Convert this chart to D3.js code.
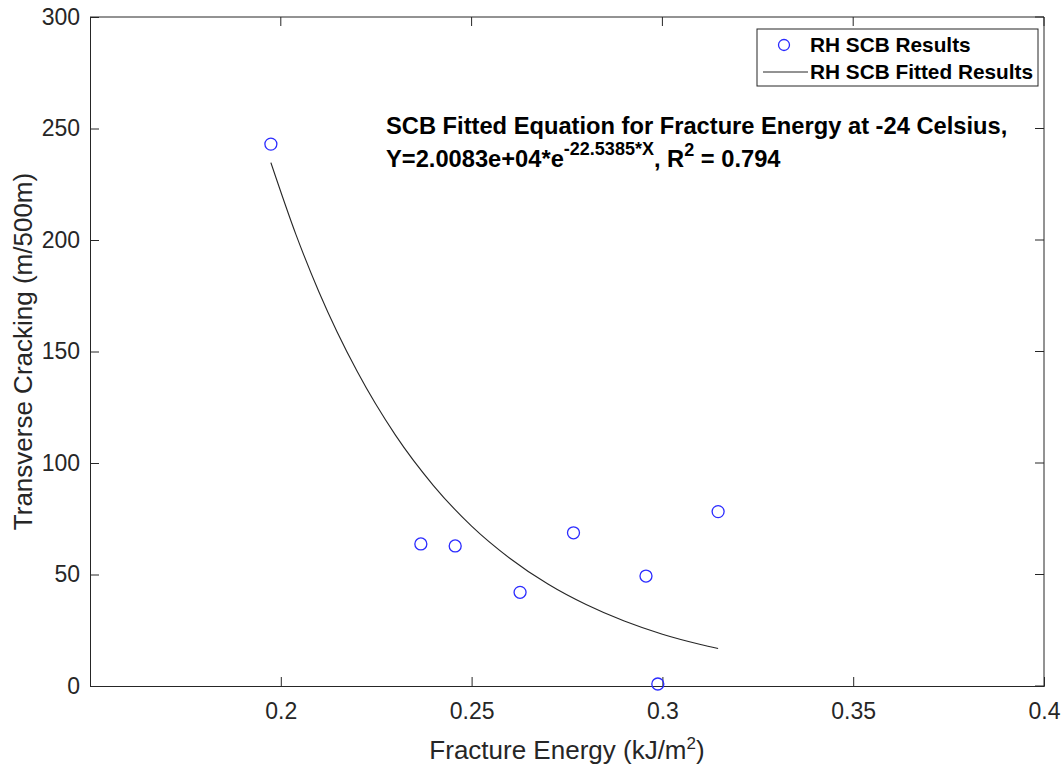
<!DOCTYPE html>
<html>
<head>
<meta charset="utf-8">
<title>Fracture energy vs transverse cracking</title>
<script src="https://cdnjs.cloudflare.com/ajax/libs/d3/7.8.5/d3.min.js"></script>
<style>
  body { margin: 0; background: #fff; }
  svg { font-family: "Liberation Sans", Arial, sans-serif; }
</style>
</head>
<body>
<svg id="chart" width="1063" height="768"></svg>
<script>
// measured SCB results
var energy = [0.1974, 0.2367, 0.2457, 0.2627, 0.2767, 0.2957, 0.2988, 0.3146];
var cracking = [243.0, 63.7, 62.8, 42.0, 68.7, 49.3, 0.9, 78.2];

var fitX = [0.1974, 0.204, 0.21, 0.22, 0.23, 0.24, 0.25, 0.26, 0.27, 0.28, 0.29, 0.30, 0.31, 0.3146];
var fitY = [234.7, 202.3, 176.7, 141.1, 112.6, 89.9, 71.7, 57.3, 45.7, 36.5, 29.1, 23.2, 18.6, 16.8];

var xTicks = [0.2, 0.25, 0.3, 0.35, 0.4];
var yTicks = [0, 50, 100, 150, 200, 250, 300];
var legendLabels = ["RH SCB Results", "RH SCB Fitted Results"];

var svg = d3.select("#chart");
var margin = {left: 90, top: 17, right: 1044, bottom: 686};

var x = d3.scaleLinear().domain([0.15, 0.4]).range([margin.left, margin.right]);
var y = d3.scaleLinear().domain([0, 300]).range([margin.bottom, margin.top]);

/* axes, matlab style: ticks point inward */
var xAxis = svg.append("g")
    .attr("transform", "translate(0," + margin.bottom + ")")
    .call(d3.axisBottom(x).tickValues(xTicks).tickSize(-9).tickPadding(17)
        .tickFormat(function (d) { return d3.format("")(d); }));

var yAxis = svg.append("g")
    .attr("transform", "translate(" + margin.left + ",0)")
    .call(d3.axisLeft(y).tickValues(yTicks).tickSize(-9).tickPadding(10));

svg.selectAll(".domain").attr("stroke", "#262626").attr("stroke-width", 1);
svg.selectAll(".tick line").attr("stroke", "#262626");
svg.selectAll(".tick text").attr("fill", "#262626").style("font-size", "23px");
xAxis.selectAll(".tick text").attr("dy", "0.71em");

// top and right edges
svg.append("line").attr("x1", margin.left).attr("x2", margin.right)
    .attr("y1", margin.top).attr("y2", margin.top).attr("stroke", "#262626");
svg.append("line").attr("x1", margin.right).attr("x2", margin.right)
    .attr("y1", margin.top).attr("y2", margin.bottom).attr("stroke", "#262626");
// right-side ticks
svg.selectAll("line.rt")
    .data(yTicks)
    .enter()
    .append("line")
    .attr("class", "rt")
    .attr("x1", margin.right).attr("x2", margin.right - 9)
    .attr("y1", function (d) { return y(d); })
    .attr("y2", function (d) { return y(d); })
    .attr("stroke", "#262626");
svg.selectAll("line.tt")
    .data(xTicks)
    .enter()
    .append("line")
    .attr("class", "tt")
    .attr("x1", function (d) { return x(d); })
    .attr("x2", function (d) { return x(d); })
    .attr("y1", margin.top).attr("y2", margin.top + 9)
    .attr("stroke", "#262626");

// fitted curve
var line = d3.line()
    .x(function (d, i) { return x(fitX[i]); })
    .y(function (d) { return y(d); })
    .curve(d3.curveMonotoneX);

svg.append("path")
    .datum(fitY)
    .attr("d", line)
    .attr("fill", "none")
    .attr("stroke", "#262626")
    .attr("stroke-width", 1.1);

// points
svg.selectAll("circle.pt")
    .data(cracking)
    .enter()
    .append("circle")
    .attr("class", "pt")
    .attr("cx", function (d, i) { return x(energy[i]); })
    .attr("cy", function (d) { return y(d); })
    .attr("r", 6)
    .attr("fill", "none")
    .attr("stroke", "#2b2bff")
    .attr("stroke-width", 1.3);

// axis labels
svg.append("text")
    .attr("x", (margin.left + margin.right) / 2)
    .attr("y", 759)
    .attr("text-anchor", "middle")
    .attr("fill", "#262626")
    .style("font-size", "26px")
    .html('Fracture Energy (kJ/m<tspan dy="-10" font-size="17px">2</tspan><tspan dy="10">)</tspan>');

svg.append("text")
    .attr("transform", "translate(32," + ((margin.top + margin.bottom) / 2) + ") rotate(-90)")
    .attr("text-anchor", "middle")
    .attr("fill", "#262626")
    .style("font-size", "26px")
    .text("Transverse Cracking (m/500m)");

// annotation
var note = svg.append("text")
    .attr("fill", "#000")
    .style("font-size", "23.7px")
    .style("font-weight", "bold");
note.append("tspan").attr("x", 386).attr("y", 134)
    .text("SCB Fitted Equation for Fracture Energy at -24 Celsius,");
note.append("tspan").attr("x", 386).attr("y", 167).text("Y=2.0083e+04*e");
note.append("tspan").attr("dy", -12).style("font-size", "18px").text("-22.5385*X");
note.append("tspan").attr("dy", 12).text(", R");
note.append("tspan").attr("dy", -11).style("font-size", "18px").text("2");
note.append("tspan").attr("dy", 11).text(" = 0.794");

// legend
var legend = svg.append("g");
legend.append("rect")
    .attr("x", 757).attr("y", 29).attr("width", 281).attr("height", 57)
    .attr("fill", "#fff").attr("stroke", "#262626").attr("stroke-width", 1);
legend.append("circle")
    .attr("cx", 784).attr("cy", 45).attr("r", 5.5)
    .attr("fill", "none").attr("stroke", "#2b2bff").attr("stroke-width", 1.3);
legend.append("line")
    .attr("x1", 763).attr("x2", 808).attr("y1", 72).attr("y2", 72)
    .attr("stroke", "#262626").attr("stroke-width", 1);
legend.selectAll("text.lg")
    .data(legendLabels)
    .enter()
    .append("text")
    .attr("class", "lg")
    .attr("x", 810)
    .attr("y", function (d, i) { return 52 + i * 26.5; })
    .attr("fill", "#000")
    .style("font-size", "20.8px")
    .style("font-weight", "bold")
    .text(function (d) { return d; });
</script>
</body>
</html>
